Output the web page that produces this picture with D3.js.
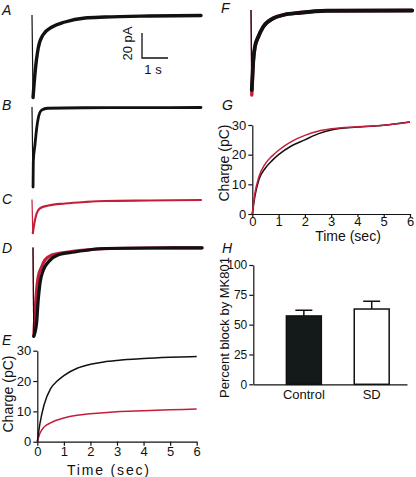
<!DOCTYPE html>
<html><head><meta charset="utf-8">
<script src="https://cdn.jsdelivr.net/npm/d3@7"></script>
<style>
body{margin:0;background:#fff}
svg{display:block}
text{font-family:"Liberation Sans",Arial,Helvetica,sans-serif;fill:#111}
</style></head><body>
<svg id="fig" width="416" height="477"></svg>
<script>
// ---------- DATA ----------
// current traces (time in s, current in pA)
const traceA_t  = [0, 0.04, 0.12, 0.24, 0.42, 0.77, 1.27, 2.04, 2.8, 4.5, 6.5];
const traceA_pA = [0, -66, -45.6, -26.4, -16, -9.6, -5.6, -2.4, -1.6, -0.8, -0.4];

const traceB_t  = [0, 0.04, 0.05, 0.115, 0.18, 0.24, 0.37, 0.6, 2, 4, 6.5];
const traceB_pA = [0, -64, -43.8, -30, -17, -9, -2.5, -1, -0.6, -0.5, -0.4];

const traceC_t  = [0, 0.03, 0.09, 0.18, 0.31, 0.63, 1.27, 2.04, 2.8, 4.5, 6.5];
const traceC_pA = [0, -27, -19, -11, -7, -4.8, -3.2, -2, -1.2, -0.8, -0.4];

const traceDblack_t  = [0, 0.03, 0.14, 0.2, 0.27, 0.4, 0.59, 0.96, 1.6, 2.27, 2.77, 4.5, 6.5];
const traceDblack_pA = [0, -71, -60, -42, -28.4, -18, -11.6, -6, -3.6, -1.6, -0.8, -0.4, -0.3];
const traceDred_t    = [0, 0.03, 0.14, 0.2, 0.33, 0.46, 0.72, 1.2, 2, 3, 4.5, 6.5];
const traceDred_pA   = [0, -71, -34, -23.6, -15.6, -10, -6, -4, -2, -0.8, -0.4, -0.3];

const traceFblack_t  = [0, 0.03, 0.09, 0.15, 0.28, 0.47, 0.86, 1.24, 1.88, 2.9, 6.2];
const traceFblack_pA = [0, -64, -40, -29.4, -21.4, -13.4, -6.6, -4, -2.2, -0.6, -0.4];
const traceFred_t    = [0, 0.03, 0.09, 0.15, 0.28, 0.47, 0.86, 1.24, 1.88, 2.9, 6.2];
const traceFred_pA   = [0, -68, -41, -30, -21.8, -13.6, -6.6, -4, -2.2, -0.6, -0.4];

// scale bar
const scaleBarCurrent = 20;   // pA
const scaleBarTime = 1;       // s

// charge integrals (time in sec, charge in pC)
const chargeE_t       = [0, 0.1, 0.25, 0.5, 0.75, 1, 1.5, 2, 2.5, 3, 4, 5, 6];
const chargeE_black   = [0, 6, 12, 17.5, 20, 21.8, 24.2, 25.5, 26.3, 26.8, 27.4, 27.8, 28.1];
const chargeE_red_t   = [0, 0.1, 0.25, 0.5, 1, 1.5, 2, 3, 4, 5, 6];
const chargeE_red     = [0, 2.8, 4.8, 6.2, 7.8, 8.7, 9.2, 9.9, 10.2, 10.5, 10.8];

const chargeG_t       = [0, 0.1, 0.25, 0.5, 0.75, 1, 1.5, 2, 2.5, 3, 4, 5, 6];
const chargeG_black   = [0, 6, 11.5, 15.5, 18, 20, 23, 25, 27, 28.3, 29.3, 29.9, 31];
const chargeG_red     = [0, 7, 12.5, 17, 19.5, 21.5, 24.5, 26.5, 27.9, 28.7, 29.4, 29.9, 31];

const chargeTicksY = [0, 10, 20, 30];
const chargeTicksX = [0, 1, 2, 3, 4, 5, 6];

// bar chart H
const barCategories = ["Control", "SD"];
const barValues     = [57.3, 63.1];
const barErrors     = [4.7, 6.5];
const barTicks      = [0, 25, 50, 75, 100];

// ---------- DRAWING ----------
const RED = "#c41e3a";
const svg = d3.select("#fig");

function zip(t, v){ return t.map((d,i)=>[d, v[i]]); }

function label(x, y, s){
  svg.append("text").attr("x", x).attr("y", y).attr("font-size", 14)
     .attr("font-style", "italic").text(s);
}

// trace scales: 1 s = 26 px, 20 pA = 25 px
function traceScales(x0, base){
  const x = d3.scaleLinear().domain([0, 1]).range([x0, x0 + 26]);
  const y = d3.scaleLinear().domain([0, -20]).range([base, base + 25]);
  return {x, y};
}

function drawTrace(sc, t, v, color, width){
  const pts = zip(t, v);
  const line = d3.line().x(d=>sc.x(d[0])).y(d=>sc.y(d[1])).curve(d3.curveMonotoneX);
  // thin stimulus downstroke
  svg.append("path").attr("d", d3.line().x(d=>sc.x(d[0])).y(d=>sc.y(d[1]))(pts.slice(0,2)))
     .attr("fill","none").attr("stroke", color).attr("stroke-width", 1.2);
  // noisy recovery (thick)
  svg.append("path").attr("d", line(pts.slice(1)))
     .attr("fill","none").attr("stroke", color).attr("stroke-width", width)
     .attr("stroke-linejoin","round").attr("stroke-linecap","round");
}

// A
const sA = traceScales(32, 15);
drawTrace(sA, traceA_t, traceA_pA, "#111", 3.4);
label(2, 15, "A");
// scale bar
const sbX = 142, sbY = 58;
const sbH = sA.y(-scaleBarCurrent) - sA.y(0);
const sbW = sA.x(scaleBarTime) - sA.x(0);
svg.append("path").attr("d", `M${sbX},${sbY - sbH}V${sbY}H${sbX + sbW}`)
   .attr("fill","none").attr("stroke","#111").attr("stroke-width",1.3);
svg.append("text").attr("font-size", 13).attr("text-anchor","middle")
   .attr("transform", `translate(${sbX - 10},${sbY - sbH/2 - 2}) rotate(-90)`).text(scaleBarCurrent + " pA");
svg.append("text").attr("font-size", 13).attr("text-anchor","middle")
   .attr("x", sbX + 11).attr("y", sbY + 16).text(scaleBarTime + " s");

// B
const sB = traceScales(32, 107);
drawTrace(sB, traceB_t, traceB_pA, "#111", 2.8);
label(2, 110, "B");

// C
const sC = traceScales(32, 199.5);
drawTrace(sC, traceC_t, traceC_pA, RED, 2.2);
label(2, 204, "C");

// D
const sD = traceScales(33, 247.5);
drawTrace(sD, traceDred_t, traceDred_pA, RED, 3.2);
drawTrace(sD, traceDblack_t, traceDblack_pA, "#111", 3.2);
label(2, 253, "D");

// F
const sF = traceScales(251, 10);
drawTrace(sF, traceFred_t, traceFred_pA, RED, 3.4);
drawTrace(sF, traceFblack_t, traceFblack_pA, "#111", 3.8);
label(221, 13, "F");

// charge plots
function chargePlot(o){
  const x = d3.scaleLinear().domain([0, 6]).range([o.x0, o.x1]);
  const y = d3.scaleLinear().domain([0, 30]).range([o.y0, o.y1]);
  const gx = svg.append("g").attr("transform", `translate(0,${o.y0})`)
     .call(d3.axisBottom(x).tickValues(chargeTicksX).tickFormat(d3.format("d"))
       .tickSize(o.xTick).tickSizeOuter(0).tickPadding(o.xPad));
  const gy = svg.append("g").attr("transform", `translate(${o.x0},0)`)
     .call(d3.axisLeft(y).tickValues(chargeTicksY).tickFormat(d3.format("d"))
       .tickSize(4).tickSizeOuter(0).tickPadding(2));
  [gx, gy].forEach(g=>{
    g.selectAll("text").attr("font-size", 13).attr("fill","#111")
     .attr("font-family","Liberation Sans, Arial, sans-serif");
    g.selectAll("line,path").attr("stroke","#111").attr("stroke-width",1.2);
  });
  o.series.forEach(s=>{
    svg.append("path").attr("d", d3.line().x(d=>x(d[0])).y(d=>y(d[1])).curve(d3.curveMonotoneX)(zip(s.t, s.v)))
      .attr("fill","none").attr("stroke", s.color).attr("stroke-width", 1.5);
  });
  const tt = svg.append("text").attr("font-size", o.titleSize).attr("text-anchor","middle")
     .attr("x", o.titleX).attr("y", o.titleY).text("Time (sec)");
  if (o.titleLen) tt.attr("textLength", o.titleLen).attr("lengthAdjust","spacing");
  svg.append("text").attr("font-size", 14).attr("text-anchor","middle")
     .attr("transform", `translate(${o.titleYx},${o.titleYy}) rotate(-90)`).text("Charge (pC)");
}

chargePlot({x0: 37.3, x1: 196.7, y0: 441.7, y1: 350.7, xTick: 4, xPad: 1,
  series: [
    {t: chargeE_red_t, v: chargeE_red, color: RED},
    {t: chargeE_t, v: chargeE_black, color: "#111"}
  ], titleX: 108, titleY: 474.5, titleSize: 14, titleLen: 82, titleYx: 12.5, titleYy: 394});
label(2, 345, "E");

chargePlot({x0: 252.3, x1: 410, y0: 214, y1: 125, xTick: 3, xPad: 0,
  series: [
    {t: chargeG_t, v: chargeG_black, color: "#111"},
    {t: chargeG_t, v: chargeG_red, color: RED}
  ], titleX: 348, titleY: 241, titleSize: 14, titleYx: 229, titleYy: 163});
label(222, 110, "G");

// H bar chart
const hx = d3.scaleBand().domain(barCategories).range([253.3, 407])
  .paddingInner(0.485).paddingOuter(0.375).align(0.65);
const hy = d3.scaleLinear().domain([0, 100]).range([384.3, 265]);
const gHy = svg.append("g").attr("transform", "translate(253.3,0)")
  .call(d3.axisLeft(hy).tickValues(barTicks).tickSize(4).tickSizeOuter(0).tickPadding(2));
const gHx = svg.append("g").attr("transform", "translate(0,384.3)")
  .call(d3.axisBottom(hx).tickSize(0).tickSizeOuter(0).tickPadding(5));
[gHx, gHy].forEach(g=>{
  g.selectAll("text").attr("font-size", 13).attr("fill","#111")
   .attr("font-family","Liberation Sans, Arial, sans-serif");
  g.selectAll("line,path").attr("stroke","#111").attr("stroke-width",1.2);
});
gHy.selectAll("text").attr("font-size", 12);

const bars = barCategories.map((c,i)=>({c, v: barValues[i], e: barErrors[i]}));
// error bars (upward only)
bars.forEach(b=>{
  const cx = hx(b.c) + hx.bandwidth()/2;
  svg.append("path").attr("d", `M${cx},${hy(b.v)}V${hy(b.v + b.e)}M${cx - 8.5},${hy(b.v + b.e)}H${cx + 8.5}`)
    .attr("stroke","#111").attr("stroke-width",1.5).attr("fill","none");
});
svg.selectAll("rect.bar").data(bars).join("rect").attr("class","bar")
  .attr("x", d=>hx(d.c)).attr("width", hx.bandwidth())
  .attr("y", d=>hy(d.v)).attr("height", d=>hy(0) - hy(d.v))
  .attr("fill", (d,i)=> i === 0 ? "#141a1a" : "#fff")
  .attr("stroke","#111").attr("stroke-width",1.5);
svg.append("text").attr("font-size", 13).attr("text-anchor","middle")
   .attr("transform", `translate(229,327.5) rotate(-90)`).text("Percent block by MK801");
label(222, 253, "H");
</script></body></html>
